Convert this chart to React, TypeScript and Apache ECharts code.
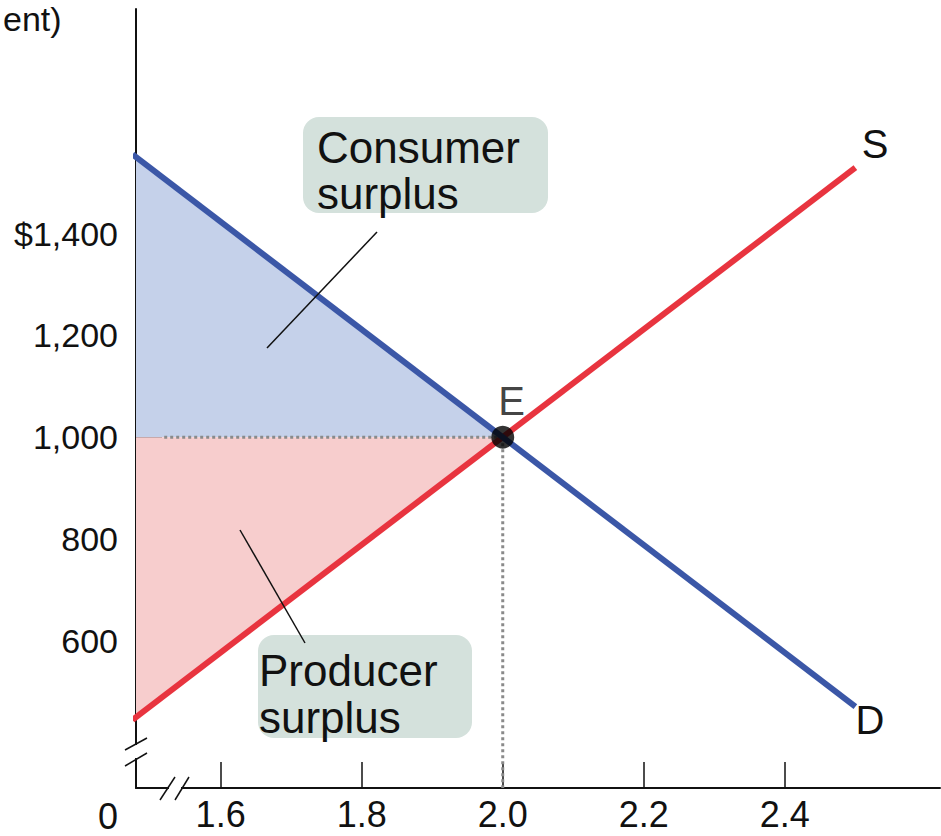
import React, { useEffect, useRef } from "react";
import * as echarts from "echarts";

// Axis extents (quantity in millions, price in $)
const xMin = 1.48;
const xMax = 2.62;
const yMin = 310;
const yMax = 1842;

const xTickValues = [1.6, 1.8, 2.0, 2.2, 2.4];
const yTickValues = [600, 800, 1000, 1200, 1260, 1400];
const yLabelValues = [600, 800, 1000, 1200, 1400];

// Supply and demand curves
const supplyLine = [
  [1.475, 444],
  [2.5, 1530],
];
const demandLine = [
  [1.475, 1556],
  [2.5, 470],
];
const equilibrium = [[2.0, 1000]];

// Surplus regions
const consumerArea = [
  [1.48, 1000],
  [1.48, 1551],
  [2.0, 1000],
];
const producerArea = [
  [1.48, 1000],
  [1.48, 449],
  [2.0, 1000],
];

// Guides
const priceGuide = [
  [1.52, 1000],
  [2.0, 1000],
];
const quantityGuide = [
  [2.0, 1000],
  [2.0, 310],
];

const FONT = "Liberation Sans, Arial, Helvetica, sans-serif";

function polygonSeries(points: number[][], fill: string) {
  return {
    type: "custom",
    silent: true,
    clip: false,
    z: 1,
    data: points,
    renderItem: (params: any, api: any) => {
      if (params.dataIndex !== 0) return null;
      const pts = points.map((p) => api.coord(p));
      return { type: "polygon", shape: { points: pts }, style: { fill } };
    },
  };
}

export default function App() {
  const ref = useRef<HTMLDivElement>(null);
  useEffect(() => {
    document.body.style.margin = "0";
    const chart = echarts.init(ref.current!, null, { renderer: "svg" });
    const black = "#111";
    chart.setOption({
      animation: false,
      backgroundColor: "#fff",
      grid: { left: 136, top: 9, right: 1, bottom: 48, containLabel: false },
      xAxis: {
        type: "value",
        min: xMin,
        max: xMax,
        splitLine: { show: false },
        axisLine: { show: true, onZero: false, lineStyle: { color: black, width: 2 } },
        axisTick: {
          show: true,
          inside: true,
          length: 26,
          customValues: xTickValues,
          lineStyle: { color: black, width: 1.5 },
        },
        axisLabel: {
          show: true,
          customValues: xTickValues,
          formatter: (v: number) => v.toFixed(1),
          fontSize: 36,
          fontFamily: FONT,
          color: black,
          margin: 8,
        },
      },
      yAxis: {
        type: "value",
        min: yMin,
        max: yMax,
        splitLine: { show: false },
        axisLine: { show: true, onZero: false, lineStyle: { color: black, width: 2 } },
        axisTick: {
          show: true,
          inside: true,
          length: 26,
          customValues: yTickValues,
          lineStyle: { color: black, width: 2 },
        },
        axisLabel: {
          show: true,
          customValues: yLabelValues,
          formatter: (v: number) => {
            const s = v.toLocaleString("en-US");
            return v === 1400 ? "$" + s : s;
          },
          fontSize: 34,
          fontFamily: FONT,
          color: black,
          margin: 18,
        },
      },
      series: [
        polygonSeries(consumerArea, "#c5d1ea"),
        polygonSeries(producerArea, "#f7cdcd"),
        {
          type: "line",
          data: priceGuide,
          symbol: "none",
          z: 3,
          lineStyle: { color: "#8a8a8a", width: 3, type: [3, 3] },
        },
        {
          type: "line",
          data: quantityGuide,
          symbol: "none",
          z: 3,
          lineStyle: { color: "#8a8a8a", width: 3, type: [3, 3] },
        },
        {
          type: "line",
          data: supplyLine,
          symbol: "none",
          clip: false,
          z: 4,
          lineStyle: { color: "#e8343f", width: 6 },
        },
        {
          type: "line",
          data: demandLine,
          symbol: "none",
          clip: false,
          z: 5,
          lineStyle: { color: "#3b57a7", width: 6 },
        },
        {
          type: "scatter",
          data: equilibrium,
          symbol: "circle",
          symbolSize: 23,
          z: 6,
          itemStyle: { color: "#000" },
          label: {
            show: true,
            formatter: "E",
            position: [7, -45],
            fontSize: 40,
            fontFamily: FONT,
            color: black,
          },
        },
      ],
      graphic: [
        // y-axis break
        { type: "rect", z: 50, shape: { x: 130, y: 745, width: 12, height: 13 }, style: { fill: "#fff" } },
        { type: "line", z: 51, shape: { x1: 125, y1: 750, x2: 147, y2: 738 }, style: { stroke: black, lineWidth: 1.5 } },
        { type: "line", z: 51, shape: { x1: 125, y1: 766, x2: 147, y2: 753 }, style: { stroke: black, lineWidth: 1.5 } },
        // x-axis break
        { type: "rect", z: 50, shape: { x: 169, y: 783, width: 12, height: 10 }, style: { fill: "#fff" } },
        { type: "line", z: 51, shape: { x1: 160, y1: 800, x2: 175, y2: 777 }, style: { stroke: black, lineWidth: 1.5 } },
        { type: "line", z: 51, shape: { x1: 175, y1: 800, x2: 189, y2: 777 }, style: { stroke: black, lineWidth: 1.5 } },
        // origin label
        { type: "text", z: 51, x: 108, y: 816, style: { text: "0", fontSize: 36, fontFamily: FONT, fill: black, align: "center", verticalAlign: "middle" } },
        // cut-off axis title
        { type: "text", z: 51, x: 3, y: 19, style: { text: "ent)", fontSize: 34, fontFamily: FONT, fill: black, align: "left", verticalAlign: "middle" } },
        // curve labels
        { type: "text", z: 51, x: 875, y: 144, style: { text: "S", fontSize: 40, fontFamily: FONT, fill: black, align: "center", verticalAlign: "middle" } },
        { type: "text", z: 51, x: 870, y: 720, style: { text: "D", fontSize: 40, fontFamily: FONT, fill: black, align: "center", verticalAlign: "middle" } },
        // consumer surplus callout
        { type: "rect", z: 40, shape: { x: 303, y: 117, width: 245, height: 96, r: 16 }, style: { fill: "#d4e1dc" } },
        { type: "text", z: 51, x: 317, y: 147, style: { text: "Consumer", fontSize: 44, fontFamily: FONT, fill: black, align: "left", verticalAlign: "middle" } },
        { type: "text", z: 51, x: 317, y: 193, style: { text: "surplus", fontSize: 44, fontFamily: FONT, fill: black, align: "left", verticalAlign: "middle" } },
        { type: "line", z: 51, shape: { x1: 377, y1: 232, x2: 267, y2: 348 }, style: { stroke: black, lineWidth: 1.5 } },
        // producer surplus callout
        { type: "rect", z: 40, shape: { x: 258, y: 635, width: 214, height: 103, r: 16 }, style: { fill: "#d4e1dc" } },
        { type: "text", z: 51, x: 259, y: 670, style: { text: "Producer", fontSize: 44, fontFamily: FONT, fill: black, align: "left", verticalAlign: "middle" } },
        { type: "text", z: 51, x: 259, y: 717, style: { text: "surplus", fontSize: 44, fontFamily: FONT, fill: black, align: "left", verticalAlign: "middle" } },
        { type: "line", z: 51, shape: { x1: 240, y1: 530, x2: 305, y2: 643 }, style: { stroke: black, lineWidth: 1.5 } },
      ],
    });
    return () => chart.dispose();
  }, []);
  return (
    <div
      ref={ref}
      style={{ position: "absolute", left: 0, top: 0, width: 941, height: 836 }}
    />
  );
}
